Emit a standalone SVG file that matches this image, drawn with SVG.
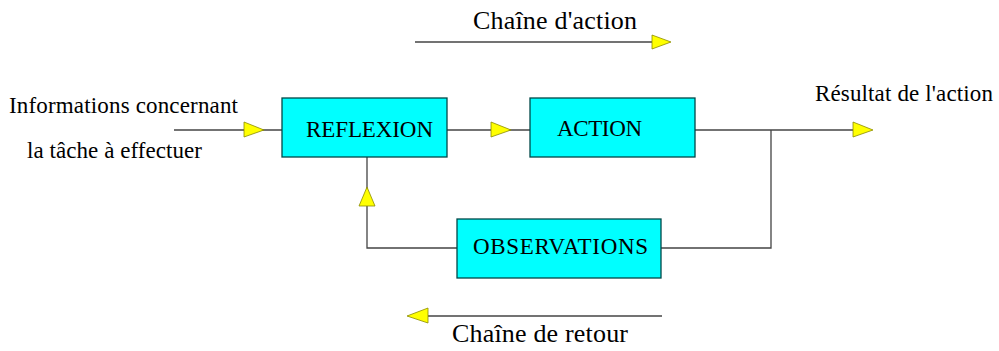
<svg xmlns="http://www.w3.org/2000/svg" width="999" height="351" viewBox="0 0 999 351">
<style>
.box{fill:#00ffff;stroke:#004848;stroke-width:1.3}
.ln{fill:none;stroke:#444;stroke-width:1.3}
.ar{fill:#ffff00;stroke:#8a8a00;stroke-width:0.8}
text{font-family:"Liberation Serif","Times New Roman",serif;fill:#000}
.t{font-size:23px}
.h{font-size:26px}
</style>
<rect width="999" height="351" fill="#fff"/>
<g id="connectors">
<path class="ln" d="M174,130 H282"/>
<polygon class="ar" points="244,122 264,130 244,137"/>
<path class="ln" d="M447,130 H530"/>
<polygon class="ar" points="491,122 511,130 491,137"/>
<path class="ln" d="M695,130 H855"/>
<polygon class="ar" points="853,122 873,130 853,137"/>
<path class="ln" d="M661,248 H771 V130"/>
<path class="ln" d="M457,248 H367 V157"/>
<polygon class="ar" points="359,206 367,187 375,206"/>
<path class="ln" d="M415,42 H654"/>
<polygon class="ar" points="652,35 671,42 652,49"/>
<path class="ln" d="M426,316 H662"/>
<polygon class="ar" points="428,308 407,316 428,323"/>
</g>
<g id="reflexion">
<rect class="box" x="282" y="98" width="165" height="59"/>
<text class="t" x="306" y="137" textLength="127">REFLEXION</text>
</g>
<g id="action">
<rect class="box" x="530" y="98" width="165" height="59"/>
<text class="t" x="557" y="136" textLength="85">ACTION</text>
</g>
<g id="observations">
<rect class="box" x="457" y="219" width="204" height="59"/>
<text class="t" x="473" y="254" textLength="175">OBSERVATIONS</text>
</g>
<g id="labels">
<text class="h" x="473" y="29" textLength="164">Chaîne d'action</text>
<text class="h" x="452" y="342" textLength="176">Chaîne de retour</text>
<text class="t" x="9" y="113" textLength="229">Informations concernant</text>
<text class="t" x="27" y="158" textLength="175">la tâche à effectuer</text>
<text class="t" x="815" y="101" textLength="178">Résultat de l'action</text>
</g>
</svg>
